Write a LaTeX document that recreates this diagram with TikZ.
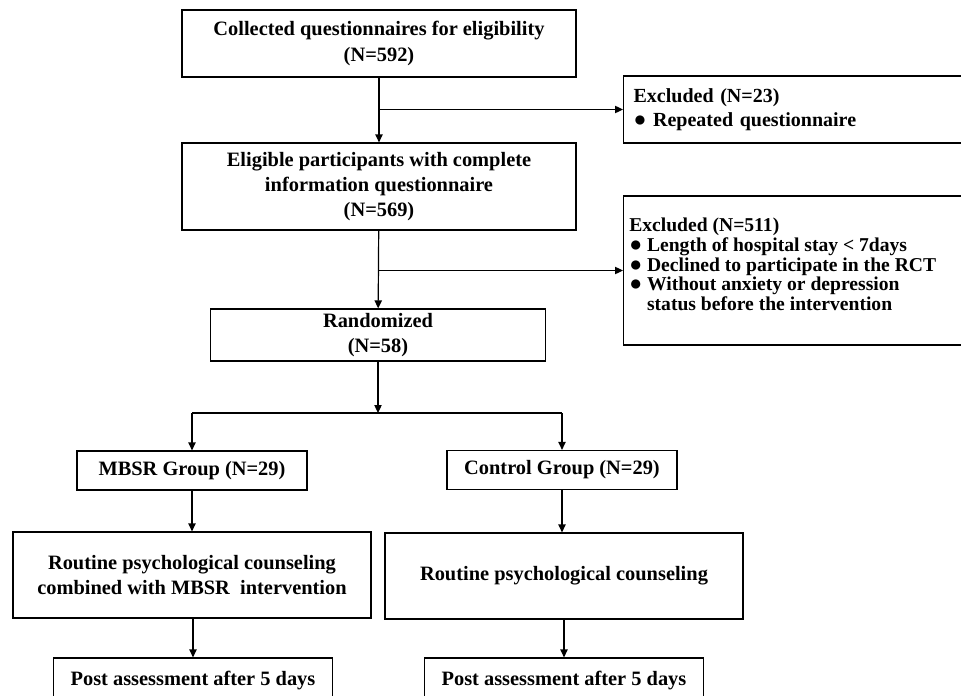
\documentclass[tikz,border=0pt]{standalone}
\usepackage{fontspec}
\setmainfont{Liberation Serif}
\usetikzlibrary{arrows.meta}
\newcommand{\blt}{\smash{\fontsize{16}{0}\selectfont ●}}
\begin{document}
\begin{tikzpicture}[
    x=0.75pt, y=-0.75pt,
    every node/.style={align=center, inner sep=0pt,
      font=\bfseries\fontsize{15.3}{19}\selectfont},
    box/.style 2 args={draw, line width=0.9pt,
      minimum width=#1*0.75pt, minimum height=#2*0.75pt},
    note/.style={draw, line width=0.9pt, anchor=west, align=left,
      text width=330*0.75pt, inner xsep=10*0.75pt,
      font=\bfseries\fontsize{15}{#1}\selectfont},
    notetext/.style={anchor=north west, align=left,
      font=\bfseries\fontsize{14.7}{14.7}\selectfont}
  ]
    \tikzset{link/.style={line width=0.9pt, -{Triangle[length=6pt,width=5.5pt]}},
      plain/.style={line width=0.9pt}}
    \clip (0,0) rectangle (961,696);
    \node[box={394}{67}] (collect) at (379,43.5)
      {Collected questionnaires for eligibility\\(N=592)};
    \node[box={394}{87}] (eligible) at (379,186.5)
      {Eligible participants with complete\\
       information questionnaire\\(N=569)};
    \node[box={335}{52}] (rand) at (378,335)
      {Randomized\\(N=58)};
    \node[note={18}, minimum height=67*0.75pt] (excl1) at (623,109.5)
      {Excluded (N=23)\\
       \blt\ Repeated questionnaire};
    \node[box={350}{149}, anchor=west] (excl2) at (623,270.5) {};
    \node[notetext] (excl2text) at (629,218)
      {Excluded (N=511)\\
       \blt\ Length of hospital stay < 7days\\
       \blt\ Declined to participate in the RCT\\
       \blt\ Without anxiety or depression\\
       \hphantom{\blt\ }status before the intervention};
    \node[box={230}{39}] (mbsr) at (192,470.5) {MBSR Group (N=29)};
    \node[box={230}{39}] (control) at (562,470) {Control Group (N=29)};
    \node[box={358}{86}] (routine1) at (192,575)
      {Routine psychological counseling\\
       combined with MBSR\ \ intervention};
    \node[box={358}{86}] (routine2) at (564,576)
      {Routine psychological counseling};
    \node[box={279}{46}] (post1) at (193,681) {Post assessment after 5 days};
    \node[box={279}{46}] (post2) at (564,681) {Post assessment after 5 days};
    \coordinate (split) at (378,413);
    \draw[link] (collect) -- (eligible);
    \draw[link] (collect.south |- excl1.west) -- (excl1.west);
    \draw[link] (eligible) -- (rand);
    \draw[link] (eligible.south |- excl2.west) -- (excl2.west);
    \draw[link] (rand) -- (split);
    \draw[plain] (split -| mbsr) -- (split -| control);
    \draw[link] (split -| mbsr) -- (mbsr);
    \draw[link] (split -| control) -- (control);
    \draw[link] (mbsr) -- (routine1);
    \draw[link] (control) -- (routine2.north -| control);
    \draw[link] (routine1.south -| post1) -- (post1);
    \draw[link] (routine2) -- (post2);
  \end{tikzpicture}
\end{document}
